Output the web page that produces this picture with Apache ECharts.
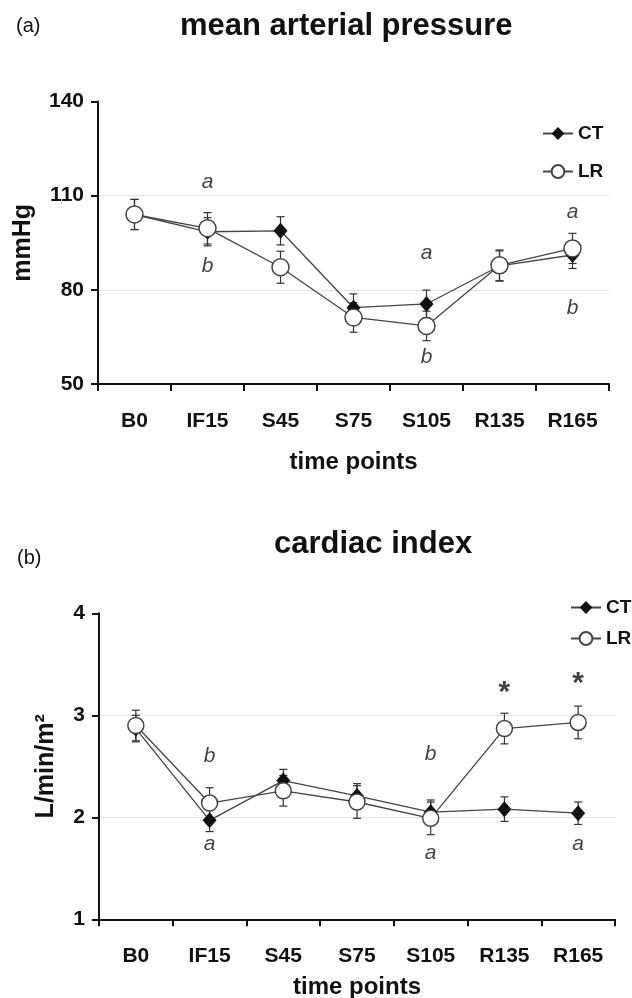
<!DOCTYPE html>
<html><head><meta charset="utf-8">
<script src="https://cdn.jsdelivr.net/npm/echarts@6/dist/echarts.min.js"></script>
<style>html,body{margin:0;padding:0;background:#fff;} #c{width:632px;height:998px;}</style>
</head><body><div id="c"></div>
<script>
// ---- data ----
const timePoints = ['B0', 'IF15', 'S45', 'S75', 'S105', 'R135', 'R165'];
// (a) mean arterial pressure, mmHg
const mapCT = [104.0, 98.5, 98.8, 74.3, 75.5, 87.6, 91.1];
const mapLR = [104.0, 99.6, 87.2, 71.2, 68.5, 87.8, 93.2];
const mapCTsem = [4.8, 4.5, 4.5, 4.4, 4.4, 4.8, 4.3];
const mapLRsem = [4.8, 5.0, 5.1, 4.7, 4.7, 4.9, 4.8];
const mapTicks = [50, 80, 110, 140];
const mapGridVals = [80, 110];
const mapAnnot = [['IF15', 114.2, 'a'], ['IF15', 87.4, 'b'], ['S105', 91.8, 'a'], ['S105', 58.7, 'b'], ['R165', 104.6, 'a'], ['R165', 74.1, 'b']];
// (b) cardiac index, L/min/m2
const ciCT = [2.87, 1.97, 2.36, 2.21, 2.05, 2.08, 2.04];
const ciLR = [2.90, 2.14, 2.26, 2.15, 1.99, 2.87, 2.93];
const ciCTsem = [0.13, 0.11, 0.11, 0.12, 0.12, 0.12, 0.11];
const ciLRsem = [0.15, 0.15, 0.15, 0.16, 0.16, 0.15, 0.16];
const ciTicks = [1, 2, 3, 4];
const ciGridVals = [2, 3];
const ciAnnot = [['IF15', 2.60, 'b'], ['IF15', 1.74, 'a'], ['S105', 2.62, 'b'], ['S105', 1.65, 'a'], ['R165', 1.74, 'a']];
const ciStars = [['R135', 3.22, '*'], ['R165', 3.31, '*']];

// ---- helpers ----
const FONT = "'Liberation Sans', Arial, Helvetica, sans-serif";
const INK = '#111';
function errData(vals, sems) { return vals.map((v, i) => [i, v - sems[i], v + sems[i]]); }
function errRender(params, api) {
  const xi = api.value(0);
  const lo = api.coord([xi, api.value(1)]);
  const hi = api.coord([xi, api.value(2)]);
  const cw = 4;
  const style = { stroke: '#333', lineWidth: 1.2 };
  return { type: 'group', children: [
    { type: 'line', shape: { x1: lo[0], y1: lo[1], x2: hi[0], y2: hi[1] }, style },
    { type: 'line', shape: { x1: lo[0] - cw, y1: lo[1], x2: lo[0] + cw, y2: lo[1] }, style },
    { type: 'line', shape: { x1: hi[0] - cw, y1: hi[1], x2: hi[0] + cw, y2: hi[1] }, style }
  ] };
}
function errSeries(vals, sems, gi) {
  return { type: 'custom', xAxisIndex: gi, yAxisIndex: gi, renderItem: errRender, data: errData(vals, sems), encode: { x: 0, y: [1, 2] }, z: 1, silent: true };
}
function gridMark(vals) {
  return { silent: true, symbol: 'none', label: { show: false }, lineStyle: { color: '#e4e4e4', width: 1, type: 'solid' }, data: vals.map(v => ({ yAxis: v })), z: 0 };
}
function ctSeries(vals, gi, gridVals) {
  return { name: 'CT', type: 'line', xAxisIndex: gi, yAxisIndex: gi, data: vals, symbol: 'diamond', symbolSize: [14, 16],
    itemStyle: { color: '#111', borderColor: '#111', borderWidth: 0 }, lineStyle: { color: '#444', width: 1.3 }, z: 2,
    markLine: gridMark(gridVals) };
}
function lrSeries(vals, gi, size) {
  return { name: 'LR', type: 'line', xAxisIndex: gi, yAxisIndex: gi, data: vals, symbol: 'circle', symbolSize: size,
    itemStyle: { color: '#fff', borderColor: '#444', borderWidth: 1.5 }, lineStyle: { color: '#444', width: 1.3 }, z: 3 };
}
function annotSeries(list, gi, style) {
  return { type: 'scatter', xAxisIndex: gi, yAxisIndex: gi, symbolSize: 0, silent: true, z: 5,
    data: list.map(d => ({ value: [d[0], d[1]], name: d[2] })),
    label: Object.assign({ show: true, position: 'inside', formatter: '{b}', color: INK, fontFamily: FONT }, style) };
}
function xAxis(gi, labelMargin, nameGap) {
  return { type: 'category', gridIndex: gi, data: timePoints, boundaryGap: true,
    axisLine: { lineStyle: { color: INK, width: 2 } },
    axisTick: { show: true, length: 7, lineStyle: { color: INK, width: 2 } },
    axisLabel: { color: INK, fontSize: 21, fontWeight: 'bold', fontFamily: FONT, margin: labelMargin },
    name: 'time points', nameLocation: 'middle', nameGap: nameGap,
    nameTextStyle: { color: INK, fontSize: 24, fontWeight: 'bold', fontFamily: FONT },
    splitLine: { show: false } };
}
function yAxis(gi, ticks, name, nameGap) {
  return { type: 'value', gridIndex: gi, min: ticks[0], max: ticks[ticks.length - 1], interval: ticks[1] - ticks[0],
    axisLine: { show: true, lineStyle: { color: INK, width: 2 } },
    axisTick: { show: true, length: 7, lineStyle: { color: INK, width: 2 } },
    axisLabel: { color: INK, fontSize: 21, fontWeight: 'bold', fontFamily: FONT, margin: 14 },
    splitLine: { show: false },
    name: name, nameLocation: 'middle', nameRotate: 90, nameGap: nameGap,
    nameTextStyle: { color: INK, fontSize: 25, fontWeight: 'bold', fontFamily: FONT } };
}

const chart = echarts.init(document.getElementById('c'), null, { renderer: 'canvas' });
chart.setOption({
  backgroundColor: '#fff',
  animation: false,
  title: [
    { text: '(a)', left: 16, top: 16, padding: 0, textStyle: { fontSize: 20, fontWeight: 'normal', color: INK, fontFamily: FONT } },
    { text: 'mean arterial pressure', left: 180, top: 11, padding: 0, textStyle: { fontSize: 31, fontWeight: 'bold', color: INK, fontFamily: FONT } },
    { text: '(b)', left: 17, top: 548, padding: 0, textStyle: { fontSize: 20, fontWeight: 'normal', color: INK, fontFamily: FONT } },
    { text: 'cardiac index', left: 274, top: 529, padding: 0, textStyle: { fontSize: 31, fontWeight: 'bold', color: INK, fontFamily: FONT } }
  ],
  legend: [
    { data: ['CT', 'LR'], orient: 'vertical', left: 537, top: 119, itemWidth: 30, itemHeight: 16, itemGap: 19,
      textStyle: { fontSize: 19, fontWeight: 'bold', color: INK, fontFamily: FONT }, selectedMode: false },
    { data: ['CT', 'LR'], orient: 'vertical', left: 565, top: 593, itemWidth: 30, itemHeight: 16, itemGap: 12,
      textStyle: { fontSize: 19, fontWeight: 'bold', color: INK, fontFamily: FONT }, selectedMode: false }
  ],
  grid: [
    { left: 98, top: 101.5, width: 511, height: 282.5, outerBoundsMode: 'none', containLabel: false },
    { left: 99, top: 613.3, width: 516, height: 306, outerBoundsMode: 'none', containLabel: false }
  ],
  xAxis: [xAxis(0, 27, 66), xAxis(1, 26, 56)],
  yAxis: [yAxis(0, mapTicks, 'mmHg', 62), yAxis(1, ciTicks, 'L/min/m²', 40)],
  series: [
    errSeries(mapCT, mapCTsem, 0),
    errSeries(mapLR, mapLRsem, 0),
    ctSeries(mapCT, 0, mapGridVals),
    lrSeries(mapLR, 0, 17),
    annotSeries(mapAnnot, 0, { fontSize: 21, fontStyle: 'italic' }),
    errSeries(ciCT, ciCTsem, 1),
    errSeries(ciLR, ciLRsem, 1),
    ctSeries(ciCT, 1, ciGridVals),
    lrSeries(ciLR, 1, 16),
    annotSeries(ciAnnot, 1, { fontSize: 21, fontStyle: 'italic' }),
    annotSeries(ciStars, 1, { fontSize: 30, fontWeight: 'bold' })
  ]
});
</script></body></html>
